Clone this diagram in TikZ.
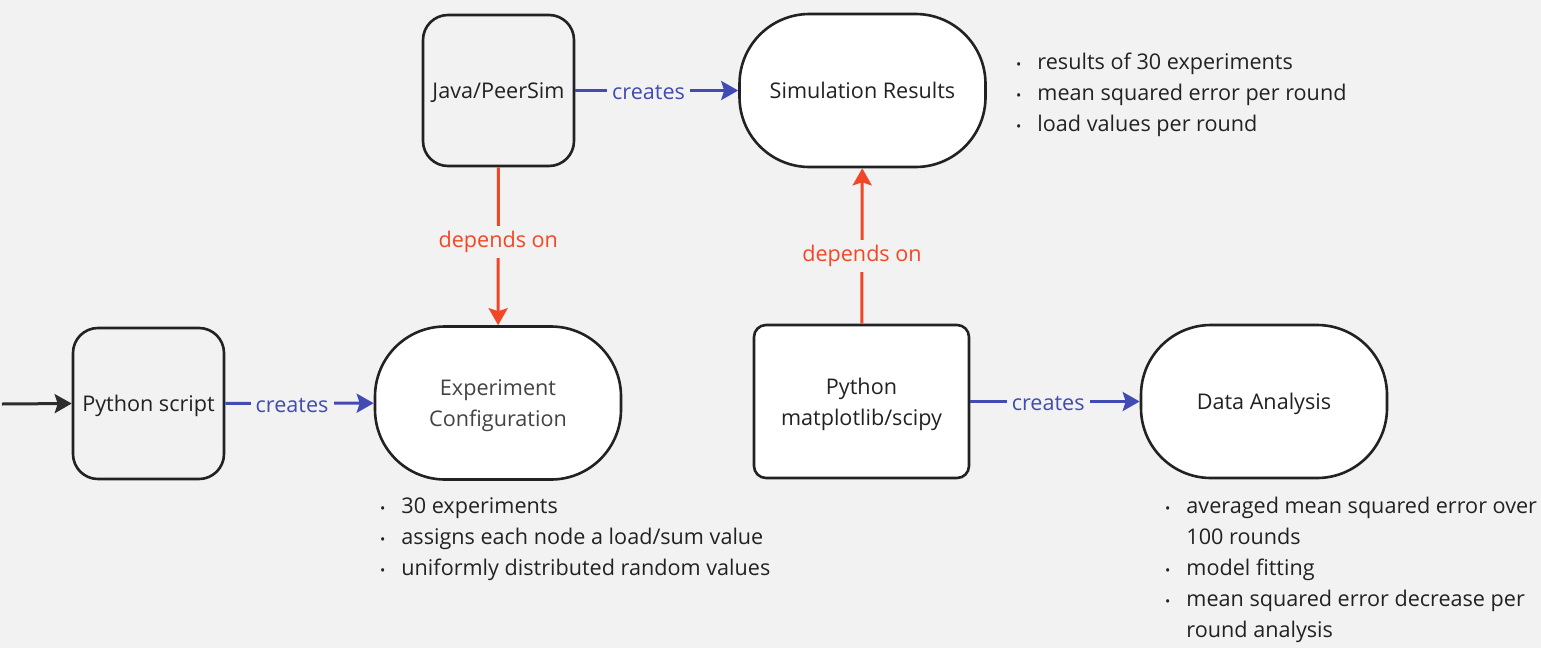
\documentclass[tikz,border=0pt]{standalone}
\usepackage{fontspec}
\setmainfont{Open Sans}
\usetikzlibrary{arrows.meta}
\definecolor{bg}{HTML}{F2F2F2}
\definecolor{cblue}{HTML}{414BB2}
\definecolor{cred}{HTML}{F24726}
\definecolor{ink}{HTML}{222222}
\newcommand\bl{{\fontsize{14}{14}\selectfont •}}
\tikzset{
  base/.style={draw=ink, line width=2.6pt, text=ink, align=center, inner sep=0pt,
    font=\fontsize{21.6}{31}\selectfont, text depth=0pt},
  grey/.style={base, fill=bg, minimum width=151pt, minimum height=151pt, rounded corners=25pt},
  pill/.style={base, fill=white, minimum width=246pt, minimum height=153pt, rounded corners=70pt},
  sq/.style={base, fill=white, minimum width=215pt, minimum height=153pt, rounded corners=12pt},
  tip/.style={-{Stealth[length=17pt,width=19pt,inset=3pt]}},
  bluearr/.style={tip, draw=cblue, line width=3pt},
  redarr/.style={tip, draw=cred, line width=3pt},
  lbl/.style={fill=bg, inner sep=5pt, font=\fontsize{21.6}{31}\selectfont, yshift=-2pt},
  lst/.style={anchor=north west, inner sep=0pt, text=ink, font=\fontsize{21.6}{31}\selectfont}
}
\begin{document}
\begin{tikzpicture}[x=1pt,y=-1pt]
\fill[bg] (0,0) rectangle (1541,648);
\useasboundingbox (0,0) rectangle (1541,648);

\node[grey] (py) at (148.5,403.5) {Python script};
\node[grey] (java) at (498.5,90.5) {Java/PeerSim};
\node[pill, text=ink!85] (exp) at (498,403) {Experiment\\Configuration};
\node[pill] (sim) at (862.5,90.5) {Simulation Results};
\node[sq] (mpl) at (861.5,401.5) {Python\\matplotlib/scipy};
\node[pill] (da) at (1264,401.5) {Data Analysis};

\coordinate (start) at (2,404);
\draw[tip, draw=ink!95, line width=3pt] (start) -- (py.west);

\draw[bluearr] (py) -- node[lbl, text=cblue, pos=0.45] {creates} (exp);
\draw[bluearr] (java) -- node[lbl, text=cblue, pos=0.45] {creates} (sim);
\draw[bluearr] (mpl) -- node[lbl, text=cblue, pos=0.46] {creates} (da);
\draw[redarr] (java) -- node[lbl, text=cred, pos=0.46] {depends on} (exp);
\draw[redarr] (mpl) -- node[lbl, text=cred, pos=0.45] {depends on} (sim);

\node[lst] (simlist) at (1016,48) {\begin{tabular}{@{}l@{\hspace{16pt}}l@{}}
\bl & results of 30 experiments\\
\bl & mean squared error per round\\
\bl & load values per round
\end{tabular}};
\node[lst] (explist) at (380,492) {\begin{tabular}{@{}l@{\hspace{16pt}}l@{}}
\bl & 30 experiments\\
\bl & assigns each node a load/sum value\\
\bl & uniformly distributed random values
\end{tabular}};
\node[lst] (dalist) at (1165,492) {\begin{tabular}{@{}l@{\hspace{16pt}}l@{}}
\bl & averaged mean squared error over\\
 & 100 rounds\\
\bl & model fitting\\
\bl & mean squared error decrease per\\
 & round analysis
\end{tabular}};
\end{tikzpicture}
\end{document}
